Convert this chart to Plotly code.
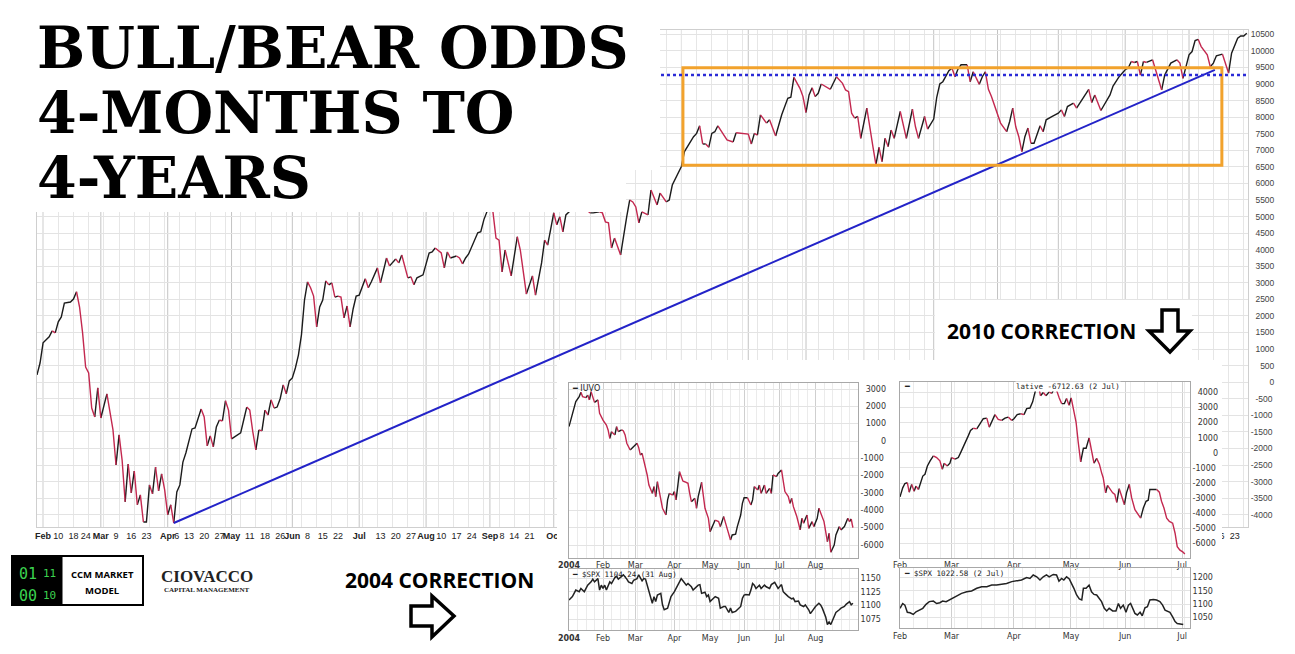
import plotly.graph_objects as go

W, H = 1295, 654
PAGE_OFFSET = 8  # the browser body margin shifts the figure by 8 px right and down

# ---------------- main chart: x = trading session counted from 30 Jan 2020 ----------------
main_day = [0, 1, 2, 4, 5, 6, 7, 8, 9, 11,
            12, 13, 14, 15, 16, 17, 18, 19, 20, 21,
            23, 24, 25, 26, 27, 28, 29, 30, 31, 32,
            33, 34, 35, 36, 37, 38, 39, 40, 41, 42,
            43, 44, 45, 46, 47, 48, 49, 51, 52, 53,
            54, 55, 56, 57, 58, 59, 60, 61, 62, 63,
            64, 65, 67, 68, 69, 70, 71, 72, 73, 74,
            75, 76, 77, 78, 79, 80, 81, 82, 83, 84,
            85, 86, 87, 88, 89, 90, 91, 92, 93, 94,
            95, 96, 97, 98, 99, 100, 101, 102, 103, 104,
            105, 106, 108, 109, 110, 112, 113, 115, 116, 118,
            119, 120, 121, 122, 123, 124, 125, 127, 129, 130,
            131, 133, 134, 135, 136, 138, 139, 140, 141, 142,
            143, 145, 146, 147, 148, 149, 150, 151, 152, 153,
            154, 156, 158, 159, 161, 163, 164, 166, 167, 168,
            169, 170, 171, 172, 173, 174, 175, 178, 182, 183,
            185, 186, 187, 188, 189, 190, 192, 193, 194, 195,
            196, 197, 198, 199, 201, 202, 203, 204, 205, 207,
            208, 209, 211, 212, 213, 214, 216, 217, 218, 219,
            220, 221, 222, 223, 224, 226, 227, 229, 230, 232,
            234, 235, 236, 237, 238, 240, 241, 243, 245, 247,
            248, 249, 251, 252, 253, 254, 255, 256, 257, 258,
            259, 261, 263, 265, 266, 267, 268, 269, 270, 271,
            272, 273, 274, 275, 276, 277, 278, 279, 280, 281,
            282, 283, 284, 285, 286, 288, 289, 290, 292, 293,
            295, 296, 297, 298, 300, 301, 302, 303, 304, 306,
            307, 308, 310, 311, 312, 313, 314, 316, 317, 319,
            320, 321, 322, 323, 324, 325, 326, 327, 328, 330,
            331, 332, 334, 336, 337, 338, 339, 341, 342, 344,
            346, 347, 348, 350, 352, 353, 354, 356, 358, 359,
            360, 361, 362, 363, 364, 365, 367, 368, 370, 371,
            373, 375, 376, 377, 378, 379, 380, 381, 382, 383,
            385, 386, 387, 388, 389, 390, 391, 392, 393, 395,
            396, 397, 398]
main_val = [220, 580, 1190, 1370, 1550, 1490, 1820, 1970, 2390, 2420,
            2510, 2730, 2270, 1490, 460, 280, -780, -1050, -170, -1080,
            -350, -930, -1440, -2500, -1590, -2350, -3610, -2470, -3340, -2680,
            -3700, -3400, -4220, -4220, -3100, -3370, -2560, -3280, -2770, -3250,
            -4000, -3700, -4250, -3310, -3100, -2410, -2130, -1410, -1380, -1080,
            -810, -1050, -1920, -1620, -1950, -1350, -1140, -1170, -560, -840,
            -1710, -1650, -1530, -1140, -750, -840, -1500, -2040, -1440, -1470,
            -840, -990, -530, -780, -750, -500, -80, -350, 40, 130,
            430, 820, 1430, 2480, 3030, 2850, 2600, 1670, 2270, 2480,
            3060, 2940, 3000, 2570, 2600, 2570, 1940, 2300, 1670, 2210,
            2600, 2630, 3120, 2850, 3030, 3450, 3000, 3750, 3510, 3720,
            3600, 3840, 3450, 3150, 3180, 2940, 3150, 3240, 3900, 3930,
            4050, 3900, 3450, 3930, 3750, 3810, 3750, 3570, 3750, 3870,
            4080, 4510, 4540, 4900, 5140, 5500, 5140, 4350, 4290, 3330,
            3990, 3210, 4390, 3990, 2660, 3210, 2630, 3600, 4290, 4140,
            4600, 5110, 4750, 4990, 4540, 5050, 5140, 5400, 5110, 5110,
            5140, 5110, 4840, 4810, 4050, 4350, 3840, 4450, 4990, 5500,
            5440, 5290, 4810, 5140, 5050, 5800, 5590, 5350, 5710, 5440,
            5500, 5950, 6350, 6510, 6960, 7110, 7410, 7510, 7740, 7190,
            7190, 7090, 7510, 7560, 7740, 7460, 7310, 7250, 7530, 7510,
            7490, 7190, 7510, 7460, 8070, 7820, 7920, 7430, 8070, 8570,
            8600, 9200, 8870, 8620, 8140, 8670, 8890, 8620, 8720, 9000,
            8950, 8840, 9220, 9020, 8820, 8770, 8120, 7970, 8020, 7360,
            7870, 8270, 7610, 7110, 6560, 7090, 6660, 7360, 7110, 7610,
            7360, 7820, 8170, 7770, 7360, 8240, 7710, 7360, 8020, 7640,
            7940, 8600, 9000, 9070, 9400, 9480, 9220, 9450, 9580, 9580,
            9070, 9370, 8990, 9220, 9370, 8840, 8620, 8120, 7820, 7560,
            7870, 8270, 7710, 7410, 6960, 7410, 7670, 7210, 7210, 7740,
            7560, 7920, 8020, 8120, 8220, 8020, 8320, 8420, 8270, 8570,
            8840, 8440, 8670, 8200, 8520, 8670, 8940, 9220, 9430, 9480,
            9680, 9650, 9680, 9270, 9680, 9650, 9730, 9430, 8820, 9270,
            9630, 9730, 9630, 9170, 9520, 9880, 9980, 10310, 10350, 10130,
            9880, 9520, 9630, 9850, 9880, 9900, 9630, 9330, 9930, 10380,
            10450, 10450, 10530]
assert len(main_day) == len(main_val)

main_tick_day = [2, 7, 12, 16, 21, 26, 31, 36, 43, 46, 50, 55, 60, 64, 70, 75, 80, 84, 89, 94,
                 99, 106, 113, 118, 123, 128, 133, 138, 143, 149, 153, 157, 162, 170,
                 379, 384, 389, 394]
main_tick_text = ["Feb", "10", "18", "24", "Mar", "9", "16", "23", "Apr", "6", "13", "20", "27",
                  "May", "11", "18", "26", "Jun", "8", "15", "22", "Jul", "13", "20", "27",
                  "Aug", "10", "17", "24", "Sep", "8", "14", "21", "Oct", "Aug", "9", "16", "23"]
main_month_day = [2, 21, 43, 64, 84, 106, 128, 149, 170, 192, 212, 234, 253, 272, 295, 316, 336, 358, 379]

trend_day = [45, 387.5]
trend_val = [-4250, 9425]
resistance_val = 9270
range_box_day = [212.5, 389.8]
range_box_val = [6550, 9490]

# ---------------- 2004 correction inset: x = session from 2 Jan 2004 ----------------
iuvo_day = [0, 3, 4, 6, 7, 8, 10, 11, 12, 13,
            14, 15, 17, 18, 20, 22, 23, 24, 25, 27,
            28, 29, 31, 32, 33, 34, 36, 37, 38, 40,
            41, 42, 43, 44, 46, 47, 49, 50, 51, 52,
            54, 55, 57, 58, 59, 61, 62, 63, 64, 65,
            67, 68, 70, 71, 72, 74, 75, 76, 78, 79,
            80, 82, 83, 85, 86, 88, 89, 91, 92, 93,
            95, 96, 98, 99, 101, 102, 103, 105, 107, 108,
            109, 111, 112, 113, 115, 116, 118, 119, 120, 122,
            123, 125, 126, 127, 129, 130, 131, 132, 134, 136,
            137, 138, 140, 141, 143, 144, 146, 147, 149, 150,
            152, 153, 154, 156, 157, 159, 160, 162, 164, 165,
            166, 167]
iuvo_val = [830, 1890, 2270, 2560, 2810, 2560, 2500, 2650, 2370, 2850,
            2460, 2230, 2370, 1600, 1210, 920, 640, 150, 540, 350,
            830, 540, 640, 580, 350, -130, -520, -420, -270, -130,
            -380, -810, -710, -1100, -1960, -2540, -3020, -2630, -3210, -2350,
            -3400, -3880, -4270, -3400, -3020, -3120, -2920, -3400, -2440, -1770,
            -2310, -2350, -2440, -3020, -3500, -3310, -3880, -3210, -2390, -3120,
            -3880, -4460, -5230, -4750, -4560, -4650, -4940, -4360, -4650, -5040,
            -5710, -5420, -5380, -4940, -4270, -3600, -3270, -3270, -3690, -3400,
            -2630, -2830, -2540, -3020, -2540, -3020, -2730, -3020, -1960, -2060,
            -1870, -1670, -2310, -2920, -3210, -3600, -3310, -3790, -4360, -5130,
            -4460, -4750, -4270, -5040, -4650, -4940, -4460, -3880, -4460, -4650,
            -5810, -5330, -6420, -6000, -5420, -4940, -5130, -4940, -4460, -4650,
            -4500, -5000]
spx04_day = [0, 2, 3, 4, 6, 7, 9, 10, 11, 13,
             14, 15, 17, 18, 19, 20, 21, 22, 24, 25,
             27, 28, 29, 31, 32, 34, 35, 37, 38, 40,
             41, 43, 44, 45, 46, 48, 49, 50, 51, 52,
             54, 55, 56, 58, 59, 60, 62, 63, 65, 66,
             67, 69, 70, 72, 73, 74, 76, 77, 78, 80,
             81, 82, 83, 85, 86, 88, 89, 91, 92, 94,
             95, 96, 98, 99, 101, 102, 103, 104, 106, 107,
             108, 109, 110, 112, 113, 115, 116, 118, 119, 121,
             122, 123, 125, 126, 127, 129, 131, 132, 133, 135,
             136, 138, 139, 141, 142, 144, 145, 147, 148, 149,
             151, 152, 153, 154, 156, 157, 159, 160, 162, 163,
             165, 166, 167]
spx04_val = [1110, 1116, 1122, 1128, 1125, 1131, 1125, 1131, 1137, 1143,
             1148, 1143, 1149, 1128, 1137, 1131, 1137, 1128, 1143, 1140,
             1151, 1153, 1148, 1153, 1156, 1148, 1143, 1140, 1146, 1149,
             1156, 1145, 1149, 1148, 1137, 1119, 1104, 1116, 1107, 1119,
             1122, 1101, 1092, 1095, 1107, 1116, 1125, 1131, 1145, 1149,
             1145, 1137, 1140, 1134, 1128, 1131, 1137, 1138, 1122, 1124,
             1116, 1119, 1107, 1113, 1116, 1113, 1095, 1098, 1098, 1087,
             1095, 1087, 1089, 1092, 1098, 1113, 1119, 1120, 1119, 1128,
             1140, 1137, 1131, 1137, 1131, 1137, 1134, 1131, 1138, 1142,
             1137, 1131, 1138, 1125, 1122, 1116, 1112, 1113, 1107, 1108,
             1101, 1098, 1101, 1092, 1085, 1095, 1098, 1104, 1101, 1095,
             1079, 1065, 1070, 1065, 1078, 1087, 1092, 1095, 1098, 1102,
             1107, 1101, 1104]
ins04_tick_day = [0, 20, 39, 62, 83, 103, 124, 145]
ins04_tick_text = ["<b>2004</b>", "Feb", "Mar", "Apr", "May", "Jun", "Jul", "Aug"]

# ---------------- 2010 correction inset: x = session from 1 Feb 2010 ----------------
cum10_day = [0, 1.0, 1.8, 2.7, 3.4, 4.3, 5.2, 5.9, 6.8, 7.4,
             8.4, 9.2, 10.1, 11.1, 12.3, 13.5, 14.7, 15.6, 16.3, 17.4,
             18.4, 19.0, 20.3, 21.5, 22.4, 23.3, 24.3, 25.2, 26.0, 27.0,
             28.3, 29.5, 30.7, 32.0, 32.9, 33.8, 35.0, 36.2, 37.5, 38.7,
             39.9, 41.2, 42.0, 43.2, 44.5, 45.7, 46.7, 47.9, 48.9, 49.5,
             50.0, 51.0, 51.8, 52.8, 53.8, 55.0, 55.9, 56.9, 57.7, 58.7,
             59.6, 60.6, 61.4, 62.3, 63.1, 63.9, 64.9, 65.7, 66.6, 67.6,
             68.6, 69.7, 70.6, 71.5, 72.5, 73.5, 74.3, 74.9, 75.8, 76.5,
             77.4, 78.4, 79.2, 79.9, 80.8, 81.7, 82.7, 83.5, 84.5, 85.4,
             86.6, 87.5, 88.7, 89.7, 90.7, 91.5, 92.1, 93.4, 94.6, 95.6,
             96.4, 97.3, 98.3, 99.3, 100.5, 101.4, 102.2, 103.2, 104.2, 105.0]
cum10_val = [-2920, -2320, -2030, -1980, -2610, -2090, -2540, -2200, -2430, -2090,
             -1540, -1420, -870, -530, -200, -310, -530, -1090, -690, -870,
             -690, -310, -420, -310, 30, 360, 810, 1140, 1480, 1630,
             1590, 1920, 2260, 2300, 1700, 2040, 2530, 2210, 2150, 2300,
             2370, 2150, 2260, 2530, 2590, 2530, 2930, 2970, 3380, 3820,
             4160, 4500, 3780, 4000, 3780, 4040, 3930, 4270, 4160, 3640,
             3260, 3260, 3600, 3150, 3640, 2930, 2040, 700, -600, 300,
             300, 990, 70, -690, -370, -750, -1310, -1650, -2650, -2160,
             -2430, -2650, -2760, -3280, -2380, -2830, -3430, -2650, -2090, -2990,
             -3770, -3990, -4330, -3660, -3210, -3140, -2430, -2430, -2430, -2610,
             -3210, -3660, -4330, -4550, -4660, -5330, -6220, -6450, -6560, -6710]
spx10_day = [0, 1.0, 1.8, 2.7, 3.7, 4.9, 5.9, 7.1, 8.4, 9.6,
             10.8, 12.3, 13.5, 14.7, 15.7, 17.0, 18.2, 19.7, 20.9, 22.7,
             24.6, 26.4, 28.3, 30.1, 32.0, 33.8, 35.6, 37.5, 39.3, 41.2,
             43.0, 44.8, 46.7, 47.9, 49.1, 50.4, 51.6, 52.8, 54.0, 55.0,
             56.5, 57.7, 58.6, 59.6, 60.4, 61.4, 62.4, 63.3, 64.1, 65.1,
             66.1, 67.0, 67.6, 68.6, 69.7, 70.6, 71.5, 72.5, 73.5, 74.3,
             75.3, 76.2, 77.1, 78.4, 79.6, 80.5, 81.3, 82.3, 83.3, 84.2,
             85.0, 85.7, 86.6, 87.5, 88.5, 89.3, 90.3, 91.2, 92.1, 93.4,
             94.6, 95.8, 96.8, 97.7, 98.6, 99.5, 100.5, 101.4, 102.2, 103.2,
             104.4]
spx10_val = [1084, 1102, 1096, 1069, 1067, 1061, 1071, 1077, 1084, 1099,
             1109, 1111, 1102, 1105, 1111, 1109, 1115, 1124, 1130, 1140,
             1146, 1149, 1159, 1165, 1165, 1171, 1171, 1175, 1177, 1184,
             1186, 1190, 1199, 1196, 1209, 1202, 1190, 1202, 1209, 1202,
             1211, 1209, 1186, 1196, 1190, 1202, 1194, 1177, 1159, 1134,
             1119, 1115, 1159, 1159, 1171, 1146, 1136, 1134, 1119, 1109,
             1084, 1074, 1084, 1074, 1074, 1102, 1084, 1096, 1069, 1096,
             1102, 1084, 1065, 1059, 1069, 1056, 1086, 1090, 1115, 1117,
             1115, 1109, 1096, 1077, 1074, 1069, 1052, 1034, 1027, 1024,
             1023]
ins10_tick_day = [0, 19, 42, 63, 83, 104]
ins10_tick_text = ["Feb", "Mar", "Apr", "May", "Jun", "Jul"]

UP = "#1b1b1b"
DOWN = "#c3284f"


def px(x):
    return (x - PAGE_OFFSET) / W


def py(y):
    return 1 - (y - PAGE_OFFSET) / H


def right_aligned(lo, hi, step, width):
    # right-side labels are right-aligned in the original; pad with figure spaces
    vals = list(range(lo, hi + 1, step))
    return vals, [str(v).rjust(width).replace(" ", "\u2007") for v in vals]


def add_direction_line(fig, xs, ys, xa, ya, width):
    # stockcharts style: rising stretches black, falling stretches red
    runs = []
    for i in range(len(xs) - 1):
        up = ys[i + 1] >= ys[i]
        if runs and runs[-1][0] == up:
            runs[-1][1].append(xs[i + 1])
            runs[-1][2].append(ys[i + 1])
        else:
            runs.append([up, [xs[i], xs[i + 1]], [ys[i], ys[i + 1]]])
    for want, color in ((True, UP), (False, DOWN)):
        rx, ry = [], []
        for up, sx, sy in runs:
            if up == want:
                rx += sx + [None]
                ry += sy + [None]
        fig.add_trace(go.Scatter(x=rx, y=ry, mode="lines", xaxis=xa, yaxis=ya,
                                 line=dict(color=color, width=width), hoverinfo="skip"))


fig = go.Figure()
add_direction_line(fig, main_day, main_val, "x", "y", 1.4)
fig.add_trace(go.Scatter(x=trend_day, y=trend_val, mode="lines", xaxis="x", yaxis="y",
                         line=dict(color="#2323c8", width=2), hoverinfo="skip"))
# empty trace so the white backing subplot for the insets exists
fig.add_trace(go.Scatter(x=[], y=[], xaxis="x2", yaxis="y2", hoverinfo="skip"))
add_direction_line(fig, iuvo_day, iuvo_val, "x3", "y3", 1.4)
fig.add_trace(go.Scatter(x=spx04_day, y=spx04_val, mode="lines", xaxis="x4", yaxis="y4",
                         line=dict(color="#222", width=1.5), hoverinfo="skip"))
add_direction_line(fig, cum10_day, cum10_val, "x5", "y5", 1.4)
fig.add_trace(go.Scatter(x=spx10_day, y=spx10_val, mode="lines", xaxis="x6", yaxis="y6",
                         line=dict(color="#222", width=1.5), hoverinfo="skip"))

small = dict(family="DejaVu Sans", size=8, color="#333")
frame = dict(showline=True, mirror=True, linecolor="#a8a8a8", linewidth=1, zeroline=False, ticks="",
             automargin=False)


def inset_x(dom, rng, anchor, vals, texts):
    return dict(domain=dom, range=rng, anchor=anchor, tickmode="array", tickvals=vals, ticktext=texts,
                showgrid=True, gridcolor="#cfcfcf", tickfont=small, tickangle=0,
                minor=dict(tickmode="linear", tick0=0, dtick=5, showgrid=True, gridcolor="#ebebeb", ticks=""),
                **frame)


def inset_y(dom, rng, anchor, ticks):
    vals, texts = ticks
    return dict(domain=dom, range=rng, anchor=anchor, side="right", tickmode="array", tickvals=vals,
                ticktext=texts, showgrid=True, gridcolor="#e3e3e3", tickfont=small, **frame)


hidden = dict(range=[0, 1], showgrid=False, zeroline=False, showticklabels=False, showline=False, ticks="",
              automargin=False)

main_y_vals, main_y_text = right_aligned(-4000, 10500, 500, 5)

fig.update_layout(
    width=W, height=H, margin=dict(l=0, r=0, t=0, b=0, pad=0, autoexpand=False),
    paper_bgcolor="white", plot_bgcolor="white", showlegend=False, hovermode=False,
    xaxis=dict(domain=[px(37), px(1248)], range=[0, 398.4], anchor="y",
               tickmode="array", tickvals=main_tick_day, tickangle=0,
               ticktext=[f"<b>{t}</b>" if t.isalpha() else t for t in main_tick_text],
               showgrid=False, tickfont=dict(family="Liberation Sans", size=9, color="#222"),
               minor=dict(tickmode="linear", tick0=2, dtick=5, showgrid=True, gridcolor="#e6e6e6", ticks=""),
               showline=True, mirror=True, linecolor="#cfcfcf", zeroline=False, ticks="", automargin=False),
    yaxis=dict(domain=[py(527), py(30)], range=[-4370, 10630], anchor="x", side="right",
               tickmode="array", tickvals=main_y_vals, ticktext=main_y_text,
               showgrid=True, gridcolor="#e3e3e3",
               tickfont=dict(family="Liberation Sans", size=8.5, color="#444"),
               showline=True, mirror=True, linecolor="#cfcfcf", zeroline=False, ticks="", automargin=False),
    xaxis2=dict(domain=[px(557), px(1222)], anchor="y2", **hidden),
    yaxis2=dict(domain=[0, py(360)], anchor="x2", **hidden),
    xaxis3=inset_x([px(569), px(858)], [0, 170], "y3", ins04_tick_day, ins04_tick_text),
    yaxis3=inset_y([py(557.7), py(383.3)], [-6733, 3329], "x3", right_aligned(-6000, 3000, 1000, 5)),
    xaxis4=inset_x([px(569), px(858)], [0, 170], "y4", ins04_tick_day, ins04_tick_text),
    yaxis4=inset_y([py(630), py(569.3)], [1055, 1166], "x4", right_aligned(1075, 1150, 25, 4)),
    xaxis5=inset_x([px(900), px(1190)], [0, 106.9], "y5", ins10_tick_day, ins10_tick_text),
    yaxis5=inset_y([py(557.7), py(381.7)], [-6950, 4714], "x5", right_aligned(-6000, 4000, 1000, 5)),
    xaxis6=inset_x([px(900), px(1190)], [0, 106.9], "y6", ins10_tick_day, ins10_tick_text),
    yaxis6=inset_y([py(628.3), py(568.3)], [1009, 1234], "x6", right_aligned(1050, 1200, 50, 4)),
)


def paper_rect(x0, y0, x1, y1, fill="white", line=None, width=0):
    return dict(type="rect", xref="paper", yref="paper", layer="above",
                x0=px(x0), x1=px(x1), y0=py(y1), y1=py(y0), fillcolor=fill,
                line=dict(color=line or fill, width=width))


def paper_path(points):
    return "M" + " L".join(f"{px(x):.5f},{py(y):.5f}" for x, y in points) + " Z"


shapes = []
for d in main_month_day:
    shapes.append(dict(type="line", xref="x", yref="y domain", x0=d, x1=d, y0=0, y1=1, layer="below",
                       line=dict(color="#c4c4c4", width=1)))
shapes.append(dict(type="rect", xref="x", yref="y", layer="above",
                   x0=range_box_day[0], x1=range_box_day[1], y0=range_box_val[0], y1=range_box_val[1],
                   line=dict(color="#f2a22c", width=3)))
shapes.append(dict(type="line", xref="x domain", yref="y", layer="above", x0=0, x1=1,
                   y0=resistance_val, y1=resistance_val, line=dict(color="#2b2bd6", width=2.5, dash="dot")))
# white areas of the collage
shapes.append(paper_rect(0, 0, 626, 212))
shapes.append(paper_rect(626, 0, 660, 170))
shapes.append(paper_rect(935, 300, 1192, 360))
shapes.append(dict(type="rect", xref="x2", yref="y2", layer="below", x0=0, x1=1, y0=0, y1=1,
                   fillcolor="white", line=dict(width=0)))
# arrows
shapes.append(dict(type="path", xref="paper", yref="paper", layer="above", fillcolor="white",
                   line=dict(color="black", width=3.5),
                   path=paper_path([(1162, 310), (1178, 310), (1178, 331), (1190, 331), (1170, 352),
                                    (1149, 331), (1162, 331)])))
shapes.append(dict(type="path", xref="paper", yref="paper", layer="above", fillcolor="white",
                   line=dict(color="black", width=3.5),
                   path=paper_path([(411, 606), (432, 606), (432, 596), (454, 616), (432, 637),
                                    (432, 626), (411, 626)])))
# CCM logo
shapes.append(paper_rect(12, 556, 143, 605, fill="white", line="black", width=2))
shapes.append(paper_rect(12, 556, 62, 605, fill="black", line="black", width=1))
fig.update_layout(shapes=shapes)


def txt(x, y, s, size, family, color="black", weight="normal", xanchor="center", bg=None):
    a = dict(x=px(x), y=py(y), xref="paper", yref="paper", text=s, showarrow=False, borderpad=0,
             xanchor=xanchor, yanchor="middle",
             font=dict(family=family, size=size, color=color, weight=weight))
    if bg:
        a["bgcolor"] = bg
    return a


title_font = "DejaVu Serif"
ann = [
    txt(36, 47.5, "BULL/BEAR ODDS", 57, title_font, weight="bold", xanchor="left"),
    txt(36, 112.5, "4-MONTHS TO", 57, title_font, weight="bold", xanchor="left"),
    txt(36, 177.5, "4-YEARS", 57, title_font, weight="bold", xanchor="left"),
    txt(1041, 331, "2010 CORRECTION", 21, "Open Sans", weight="bold"),
    txt(439, 580, "2004 CORRECTION", 21, "Open Sans", weight="bold"),
    txt(28, 574, "01", 15, "DejaVu Sans Mono", color="#3bd24f"),
    txt(49, 573, "11", 11, "DejaVu Sans Mono", color="#3bd24f"),
    txt(28, 596, "00", 15, "DejaVu Sans Mono", color="#3bd24f"),
    txt(49, 595, "10", 11, "DejaVu Sans Mono", color="#3bd24f"),
    txt(102.5, 574, "CCM MARKET", 9.5, "Open Sans", weight="bold"),
    txt(102.5, 590, "MODEL", 9.5, "Open Sans", weight="bold"),
    txt(207, 576, "CIOVACCO", 17, "Liberation Serif", color="#222", weight="bold"),
    txt(207, 590, "CAPITAL MANAGEMENT", 7, "Liberation Serif", color="#222", weight="bold"),
    txt(571, 388, "━ IUVO", 8, "DejaVu Sans", color="#222", xanchor="left"),
    txt(571, 574.5, "━ $SPX 1104.24 (31 Aug)", 7.5, "DejaVu Sans Mono", color="#222", xanchor="left"),
    txt(903, 386.5, "━", 8, "DejaVu Sans", color="#222", xanchor="left"),
    txt(1068, 386.5, "lative -6712.63 (2 Jul)", 7.5, "DejaVu Sans Mono", color="#222", bg="white"),
    txt(903, 573, "━ $SPX 1022.58 (2 Jul)", 7.5, "DejaVu Sans Mono", color="#222", xanchor="left"),
]
fig.update_layout(annotations=ann)

fig.write_html("out.html")
